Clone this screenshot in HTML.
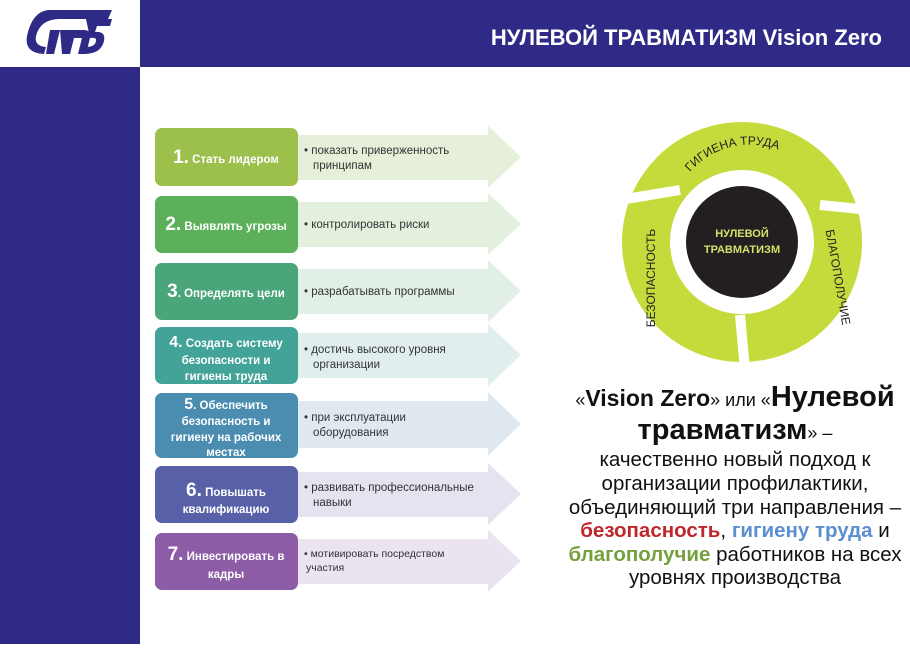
<!DOCTYPE html>
<html><head><meta charset="utf-8"><style>
body{margin:0;width:910px;height:644px;overflow:hidden;background:#fff;font-family:"Liberation Sans","Noto Sans CJK SC",sans-serif}
</style></head><body>
<svg width="910" height="644" viewBox="0 0 910 644" xmlns="http://www.w3.org/2000/svg" font-family="Liberation Sans, Noto Sans CJK SC, sans-serif">
<rect x="140" y="0" width="770" height="67" fill="#2e2a86"/>
<rect x="0" y="67" width="140" height="577" fill="#2e2a86"/>
<text x="882" y="45" fill="#fff" font-size="22" font-weight="bold" text-anchor="end">НУЛЕВОЙ ТРАВМАТИЗМ Vision Zero</text>
<!-- logo -->
<g fill="#2e2a86">
<path d="M48 10 L112 10 L108 19 L58 19 Q40 20 36 36 Q34 46 46 47 L44 54 Q24 53 27 36 Q32 12 48 10Z"/>
<path d="M50 30 L60 30 L54 54 L46 54Z"/>
<path d="M60 30 L85 30 Q92 31 90 38 L86 54 L78 54 L82 38 L74 38 L70 54 L62 54Z"/>
<path d="M86 19 L112 19 L110 26 L97 26 L95 32 Q106 31 104 41 Q101 54 84 54 L86 47 Q95 47 96 41 Q97 37 90 38Z"/>
</g>
<!-- rows -->
<g font-weight="bold" font-size="11.5">
<g>
<path d="M298 135 L488 135 L488 126 L521 157 L488 188 L488 180 L298 180Z" fill="#e6efd9"/>
<path d="M298 202 L488 202 L488 193 L521 224 L488 255 L488 247 L298 247Z" fill="#e3f0de"/>
<path d="M298 269 L488 269 L488 260 L521 291 L488 322 L488 314 L298 314Z" fill="#e1efe6"/>
<path d="M298 333 L488 333 L488 324 L521 355 L488 386 L488 378 L298 378Z" fill="#e0efee"/>
<path d="M298 401 L488 401 L488 392 L521 424 L488 456 L488 448 L298 448Z" fill="#e1e9f0"/>
<path d="M298 472 L488 472 L488 463 L521 494 L488 525 L488 517 L298 517Z" fill="#e3e4f0"/>
<path d="M298 539 L488 539 L488 530 L521 561 L488 592 L488 584 L298 584Z" fill="#ebe3ef"/>
</g>
<rect x="155" y="128" width="143" height="58" rx="7" fill="#9dbf4b"/>
<rect x="155" y="196" width="143" height="57" rx="7" fill="#5cb05a"/>
<rect x="155" y="263" width="143" height="57" rx="7" fill="#4aa57a"/>
<rect x="155" y="327" width="143" height="57" rx="7" fill="#44a398"/>
<rect x="155" y="393" width="143" height="65" rx="7" fill="#4a8db0"/>
<rect x="155" y="466" width="143" height="57" rx="7" fill="#5860a8"/>
<rect x="155" y="533" width="143" height="57" rx="7" fill="#8c5ca6"/>
<g fill="#fff" text-anchor="middle">
<text x="226" y="163"><tspan font-size="19">1.</tspan> Стать лидером</text>
<text x="226" y="230"><tspan font-size="19">2.</tspan> Выявлять угрозы</text>
<text x="226" y="297"><tspan font-size="19">3</tspan>. Определять цели</text>
<text x="226" y="347"><tspan font-size="16">4.</tspan> Создать систему</text>
<text x="226" y="364">безопасности и</text>
<text x="226" y="380">гигиены труда</text>
<text x="226" y="409"><tspan font-size="16">5</tspan>. Обеспечить</text>
<text x="226" y="425">безопасность и</text>
<text x="226" y="441">гигиену на рабочих</text>
<text x="226" y="456">местах</text>
<text x="226" y="496"><tspan font-size="19">6.</tspan> Повышать</text>
<text x="226" y="513">квалификацию</text>
<text x="226" y="560"><tspan font-size="19">7.</tspan> Инвестировать в</text>
<text x="226" y="578">кадры</text>
</g>
<g fill="#333" font-weight="normal" font-size="11.5">
<text x="304" y="154">• показать приверженность</text>
<text x="313" y="169">принципам</text>
<text x="304" y="228">• контролировать риски</text>
<text x="304" y="295">• разрабатывать программы</text>
<text x="304" y="353">• достичь высокого уровня</text>
<text x="313" y="368">организации</text>
<text x="304" y="421">• при эксплуатации</text>
<text x="313" y="436">оборудования</text>
<text x="304" y="491">• развивать профессиональные</text>
<text x="313" y="506">навыки</text>
<text x="304" y="557" font-size="10.5">• мотивировать посредством</text>
<text x="306" y="571" font-size="10.5">участия</text>
</g>
</g>
<!-- circle -->
<g>
<circle cx="742" cy="242" r="96" fill="none" stroke="#c5db3b" stroke-width="48"/>
<g stroke="#fff" stroke-width="10">
<line x1="680" y1="190" x2="620" y2="200"/>
<line x1="820" y1="205" x2="870" y2="210"/>
<line x1="740" y1="315" x2="745" y2="370"/>
</g>
<circle cx="742" cy="242" r="56" fill="#231f20"/>
<text x="742" y="237" fill="#d7e06a" font-size="11" font-weight="bold" text-anchor="middle">НУЛЕВОЙ</text>
<text x="742" y="253" fill="#d7e06a" font-size="11" font-weight="bold" text-anchor="middle">ТРАВМАТИЗМ</text>
<path id="tp" d="M690 172 A80 80 0 0 1 800 162" fill="none"/>
<text font-size="12" fill="#222"><textPath href="#tp">ГИГИЕНА  ТРУДА</textPath></text>
<text transform="translate(655,278) rotate(-90)" font-size="12" fill="#222" text-anchor="middle">БЕЗОПАСНОСТЬ</text>
<text transform="translate(834,278) rotate(80)" font-size="12" fill="#222" text-anchor="middle">БЛАГОПОЛУЧИЕ</text>
</g>
<!-- text -->
<g text-anchor="middle" fill="#111">
<text x="735" y="406" font-size="29" font-weight="bold"><tspan font-size="18" font-weight="normal">«</tspan><tspan font-size="23">Vision Zero</tspan><tspan font-size="18" font-weight="normal">» или «</tspan>Нулевой</text>
<text x="735" y="439" font-size="29" font-weight="bold">травматизм<tspan font-size="18" font-weight="normal">» –</tspan></text>
<g font-size="20.5">
<text x="735" y="466">качественно новый подход к</text>
<text x="735" y="490">организации профилактики,</text>
<text x="735" y="514">объединяющий три направления –</text>
<text x="735" y="537"><tspan fill="#c0272d" font-weight="bold">безопасность</tspan>, <tspan fill="#5b8fd0" font-weight="bold">гигиену труда</tspan> и</text>
<text x="735" y="561"><tspan fill="#76a03d" font-weight="bold">благополучие</tspan> работников на всех</text>
<text x="735" y="584">уровнях производства</text>
</g>
</g>
</svg>
</body></html>
